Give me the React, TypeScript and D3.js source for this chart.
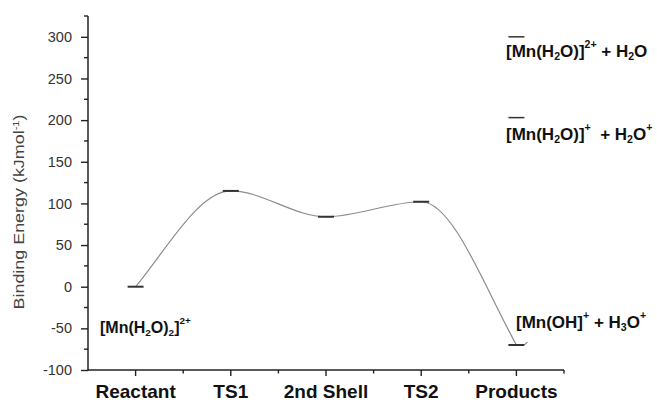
import React, { useRef, useEffect } from "react";
import * as d3 from "d3";

// reaction coordinate levels
const categories = ["Reactant", "TS1", "2nd Shell", "TS2", "Products"];
const energies = [0, 115, 84, 102, -70];
// alternative product channels (drawn at the Products column)
const altProducts = [300, 203];
const yMajorTicks = [-100, -50, 0, 50, 100, 150, 200, 250, 300];

const W = 657;
const H = 402;
const margin = { top: 16, right: 93, bottom: 32, left: 88 };

const x = d3.scaleLinear().domain([0.5, 5.5]).range([margin.left, W - margin.right]);
const y = d3.scaleLinear().domain([-100, 325]).range([H - margin.bottom, margin.top]);

const FONT = "'Liberation Sans', Arial, Helvetica, sans-serif";

// smooth profile: flat at each stationary point, near-straight at the ends
function profilePath(pts: [number, number][]) {
  const n = pts.length;
  const m = pts.map((p, i) => {
    if (i === 0) return 1.2 * (pts[1][1] - p[1]) / (pts[1][0] - p[0]);
    if (i === n - 1) return 1.2 * (p[1] - pts[i - 1][1]) / (p[0] - pts[i - 1][0]);
    return 0;
  });
  const p = d3.path();
  p.moveTo(pts[0][0], pts[0][1]);
  for (let i = 0; i < n - 1; i++) {
    const [x0, y0] = pts[i];
    const [x1, y1] = pts[i + 1];
    const dx = (x1 - x0) / 3;
    p.bezierCurveTo(x0 + dx, y0 + m[i] * dx, x1 - dx, y1 - m[i + 1] * dx, x1, y1);
  }
  return p.toString();
}

const Sub = ({ c }: { c: string }) => (
  <tspan fontSize="0.62em" dy="0.3em">{c}</tspan>
);

const App = () => {
  const axRef = useRef<SVGGElement>(null);

  useEffect(() => {
    const g = d3.select(axRef.current);
    g.selectAll("*").remove();

    // y axis: labelled major ticks + minor ticks
    const yAxis = d3.axisLeft(y).tickValues(yMajorTicks).tickSize(7).tickPadding(9)
      .tickFormat(d => String(d));
    const ya = g.append("g").attr("transform", `translate(${margin.left},0)`).call(yAxis);
    ya.select(".domain").remove();
    ya.selectAll("text").attr("font-size", 14.5).attr("font-family", FONT).attr("fill", "#333");
    ya.selectAll("line").attr("stroke", "#222").attr("stroke-width", 1.4);
    const minorY = d3.range(-75, 326, 50);
    g.selectAll(".ym").data(minorY).join("line")
      .attr("x1", margin.left - 4).attr("x2", margin.left)
      .attr("y1", d => y(d)).attr("y2", d => y(d))
      .attr("stroke", "#222").attr("stroke-width", 1.4);

    // x axis ticks
    const xMajor = categories.map((_, i) => i + 1);
    const xMinor = categories.map((_, i) => i + 1.5);
    g.selectAll(".xM").data(xMajor).join("line")
      .attr("x1", d => x(d)).attr("x2", d => x(d))
      .attr("y1", y(-100)).attr("y2", y(-100) + 6)
      .attr("stroke", "#222").attr("stroke-width", 1.4);
    g.selectAll(".xm").data(xMinor).join("line")
      .attr("x1", d => x(d)).attr("x2", d => x(d))
      .attr("y1", y(-100)).attr("y2", y(-100) + 3.5)
      .attr("stroke", "#222").attr("stroke-width", 1.4);

    // axis lines
    g.append("line").attr("x1", margin.left).attr("x2", margin.left)
      .attr("y1", y(325)).attr("y2", y(-100) + 1)
      .attr("stroke", "#222").attr("stroke-width", 1.5);
    g.append("line").attr("x1", margin.left).attr("x2", x(5.5))
      .attr("y1", y(-100)).attr("y2", y(-100))
      .attr("stroke", "#222").attr("stroke-width", 1.5);
  }, []);

  const pts: [number, number][] = energies.map((e, i) => [x(i + 1), y(e)]);
  const path = profilePath(pts);
  const half = 8;

  return (
    <svg width={W} height={H} style={{ position: "absolute", left: 0, top: 0, background: "#fff" }}
      fontFamily={FONT}>
      <path d={path} fill="none" stroke="#8c8c8c" strokeWidth={1.2} />
      {energies.map((e, i) => (
        <line key={i} x1={x(i + 1) - half} x2={x(i + 1) + half} y1={y(e)} y2={y(e)}
          stroke="#333" strokeWidth={2} />
      ))}
      <line x1={x(5) + half} x2={x(5) + half + 3} y1={y(-70)} y2={y(-70) - 3} stroke="#555" strokeWidth={1} />
      {altProducts.map((e, i) => (
        <line key={i} x1={x(5) - half} x2={x(5) + half} y1={y(e)} y2={y(e)}
          stroke="#333" strokeWidth={1.5} />
      ))}
      <g ref={axRef} />

      {categories.map((c, i) => (
        <text key={c} x={x(i + 1)} y={398} textAnchor="middle" fontSize={19} fontWeight="bold" fill="#111">
          {c}
        </text>
      ))}

      <text transform="translate(24,212) rotate(-90)" textAnchor="middle" fontSize={15.5} fill="#444"
        textLength={195} lengthAdjust="spacingAndGlyphs">
        Binding Energy (kJmol<tspan fontSize="0.62em" dy="-0.55em">-1</tspan><tspan dy="0.34em">)</tspan>
      </text>

      <g fontWeight="bold" fill="#111">
        <text x={100} y={333} fontSize={16}>
          [Mn(H<Sub c="2" /><tspan dy="-0.19em">O)</tspan><Sub c="2" /><tspan dy="-0.19em">]</tspan>
          <tspan fontSize="0.62em" dy="-0.85em">2+</tspan>
        </text>
        <text x={506} y={57} fontSize={17}>
          [Mn(H<Sub c="2" /><tspan dy="-0.19em">O)]</tspan>
          <tspan fontSize="0.62em" dy="-0.85em">2+</tspan>
          <tspan dy="0.53em"> + H</tspan><Sub c="2" /><tspan dy="-0.19em">O</tspan>
        </text>
        <text x={506} y={140} fontSize={17}>
          [Mn(H<Sub c="2" /><tspan dy="-0.19em">O)]</tspan>
          <tspan fontSize="0.62em" dy="-0.85em">+</tspan>
          <tspan dy="0.53em">{"\u00a0 + H"}</tspan><Sub c="2" /><tspan dy="-0.19em">O</tspan>
          <tspan fontSize="0.62em" dy="-0.85em">+</tspan>
        </text>
        <text x={516} y={328} fontSize={17}>
          [Mn(OH]<tspan fontSize="0.62em" dy="-0.85em">+</tspan>
          <tspan dy="0.53em"> + H</tspan><Sub c="3" /><tspan dy="-0.19em">O</tspan>
          <tspan fontSize="0.62em" dy="-0.85em">+</tspan>
        </text>
      </g>
    </svg>
  );
};

export default App;
